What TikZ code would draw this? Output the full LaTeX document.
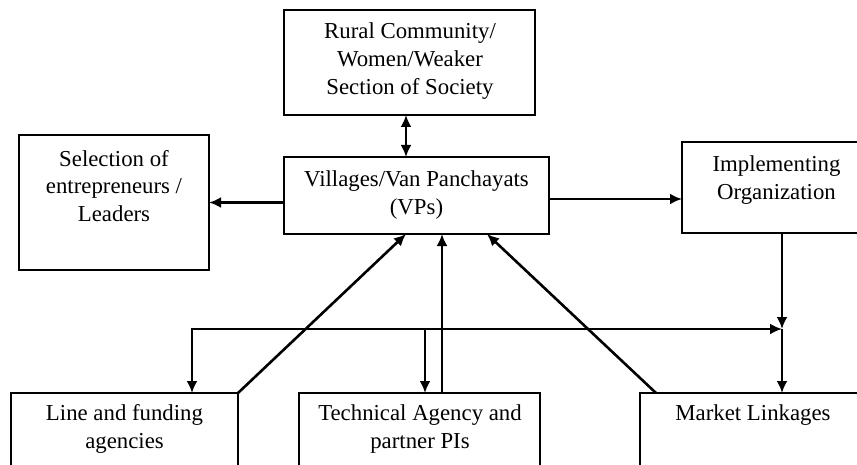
\documentclass[tikz,border=0pt]{standalone}
\usepackage{fontspec}
\setmainfont{Liberation Serif}
\usetikzlibrary{arrows.meta}
\begin{document}
\begin{tikzpicture}[x=0.5pt,y=-0.5pt,
  box/.style={draw=black,line width=0.65pt,rectangle,inner sep=0pt,outer sep=0pt},
  txt/.style={align=center,inner sep=0pt,font=\fontsize{11.4pt}{13.9pt}\selectfont},
  arr/.style={line width=1.3pt,-{Latex[length=6pt,width=5.5pt]}},
  darr/.style={line width=1.3pt,{Latex[length=6pt,width=5.5pt]}-{Latex[length=6pt,width=5.5pt]}}]
\useasboundingbox (0,0) rectangle (857,465);
\clip (0,0) rectangle (857,465);
% boxes
\node[box,minimum width=125.5pt,minimum height=52.5pt] (rural) at (409.5,62.5) {};
\node[box,minimum width=95pt,minimum height=67.5pt] (sel) at (114,202.5) {};
\node[box,minimum width=132.5pt,minimum height=38.5pt] (vp) at (416.5,195.5) {};
\node[box,minimum width=94.5pt,minimum height=45.5pt] (impl) at (776.5,187.5) {};
\node[box,minimum width=113.5pt,minimum height=45pt] (line) at (124.5,438) {};
\node[box,minimum width=120.5pt,minimum height=45pt] (tech) at (419.5,438) {};
\node[box,minimum width=113pt,minimum height=45pt] (market) at (753,438) {};
% texts
\node[txt] (truarl) at (410,61) {Rural Community/\\Women/Weaker\\Section of Society};
\node[txt] (tsel) at (114,186) {Selection of\\entrepreneurs /\\Leaders};
\node[txt] (tvp) at (416.5,195) {Villages/Van Panchayats\\(VPs)};
\node[txt] (timpl) at (776.5,180) {Implementing\\Organization};
\node[txt] (tline) at (124.5,429) {Line and funding\\agencies};
\node[txt] (ttech) at (420,429) {Technical Agency and\\partner PIs};
\node[txt] (tmarket) at (753,415) {Market Linkages};
% junction coordinates
\coordinate (j) at (782,329);
\coordinate (k) at (192,329);
\coordinate (m) at (425,329);
% connectors
\draw[darr] ([xshift=-1.75pt]rural.south) -- ([xshift=-1.75pt]rural.south |- vp.north);
\draw[arr] ([yshift=-3.5pt]vp.west) -- ([yshift=-3.5pt]vp.west -| sel.east);
\draw[arr] ([yshift=-1.75pt]vp.east) -- ([yshift=-1.75pt]vp.east -| impl.west);
\draw[arr] (line.north east) -- ([xshift=-5.25pt]vp.south);
\draw[arr] ([xshift=11.25pt]tech.north) -- ([xshift=11.25pt]tech.north |- vp.south);
\draw[arr] ([xshift=8pt]market.north west) -- ([xshift=35.25pt]vp.south);
\draw[arr] (impl.south -| j) -- (j);
\draw[arr] (j) -- (j |- market.north);
\draw[darr,line join=miter] (k |- line.north) -- (k) -- (j);
\draw[arr] (m) -- (m |- tech.north);
\end{tikzpicture}
\end{document}
